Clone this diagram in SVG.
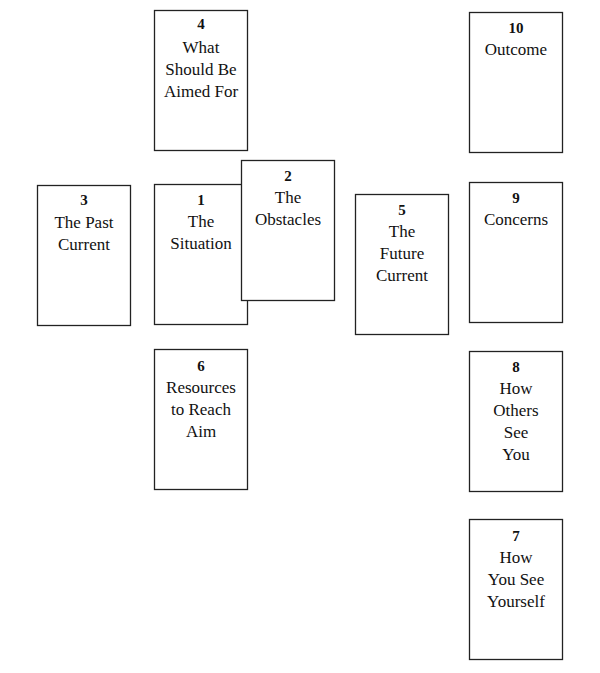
<svg xmlns="http://www.w3.org/2000/svg" width="600" height="673" viewBox="0 0 600 673">
<style>
.card{fill:#fff;stroke:#222;stroke-width:1.3}
text{font-family:"Liberation Serif","DejaVu Serif",serif;font-size:17px;fill:#111;text-anchor:middle}
.n{font-weight:bold;font-size:15px}
</style>
<rect width="600" height="673" fill="#fff"/>
<g id="connectors"></g>
<g id="card4"><rect class="card" x="154.5" y="10.5" width="93" height="140"/>
<text class="n" x="201" y="29">4</text><text x="201" y="53">What</text><text x="201" y="75">Should Be</text><text x="201" y="97">Aimed For</text></g>
<g id="card3"><rect class="card" x="37.5" y="185.5" width="93" height="140"/>
<text class="n" x="84" y="205">3</text><text x="84" y="228">The Past</text><text x="84" y="250">Current</text></g>
<g id="card1"><rect class="card" x="154.5" y="184.5" width="93" height="140"/>
<text class="n" x="201" y="205">1</text><text x="201" y="227">The</text><text x="201" y="249">Situation</text></g>
<g id="card2"><rect class="card" x="241.5" y="160.5" width="93" height="140"/>
<text class="n" x="288" y="181">2</text><text x="288" y="203">The</text><text x="288" y="225">Obstacles</text></g>
<g id="card5"><rect class="card" x="355.5" y="194.5" width="93" height="140"/>
<text class="n" x="402" y="215">5</text><text x="402" y="237">The</text><text x="402" y="259">Future</text><text x="402" y="281">Current</text></g>
<g id="card6"><rect class="card" x="154.5" y="349.5" width="93" height="140"/>
<text class="n" x="201" y="371">6</text><text x="201" y="393">Resources</text><text x="201" y="415">to Reach</text><text x="201" y="437">Aim</text></g>
<g id="card10"><rect class="card" x="469.5" y="12.5" width="93" height="140"/>
<text class="n" x="516" y="33">10</text><text x="516" y="55">Outcome</text></g>
<g id="card9"><rect class="card" x="469.5" y="182.5" width="93" height="140"/>
<text class="n" x="516" y="203">9</text><text x="516" y="225">Concerns</text></g>
<g id="card8"><rect class="card" x="469.5" y="351.5" width="93" height="140"/>
<text class="n" x="516" y="372">8</text><text x="516" y="394">How</text><text x="516" y="416">Others</text><text x="516" y="438">See</text><text x="516" y="460">You</text></g>
<g id="card7"><rect class="card" x="469.5" y="519.5" width="93" height="140"/>
<text class="n" x="516" y="541">7</text><text x="516" y="563">How</text><text x="516" y="585">You See</text><text x="516" y="607">Yourself</text></g>
</svg>
